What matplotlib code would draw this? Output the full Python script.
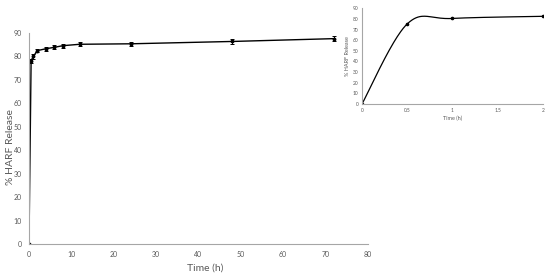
import numpy as np
import matplotlib.pyplot as plt

# main release profile (0-72 h)
time_h = [0, 0.5, 1, 2, 4, 6, 8, 12, 24, 48, 72]
release = [0, 78.2, 80.0, 82.5, 83.3, 83.9, 84.6, 85.2, 85.4, 86.4, 87.6]
release_err = [0, 0.8, 0.9, 0.8, 0.9, 0.8, 0.9, 0.9, 0.9, 1.0, 1.0]

# inset: first 2 h
inset_time = [0, 0.5, 1, 2]
inset_release = [0, 75.2, 80.4, 82.4]

plt.rcParams['font.family'] = ['Lato', 'DejaVu Sans']
axis_grey = '#a6a6a6'
text_grey = '#595959'


def excel_smooth(xs, ys, xspan, yspan, n=60):
    # Catmull-Rom style bezier, like a spreadsheet "smoothed line"
    p = np.column_stack([np.asarray(xs) / xspan, np.asarray(ys) / yspan])
    p = np.vstack([p[0], p, p[-1]])
    out = []
    t = np.linspace(0, 1, n)[:, None]
    for i in range(1, len(p) - 2):
        p0, p3 = p[i], p[i + 1]
        c1 = p0 + (p[i + 1] - p[i - 1]) / 6
        c2 = p3 - (p[i + 2] - p[i]) / 6
        seg = (1 - t) ** 3 * p0 + 3 * (1 - t) ** 2 * t * c1 + 3 * (1 - t) * t ** 2 * c2 + t ** 3 * p3
        out.append(seg)
    out = np.vstack(out)
    return out[:, 0] * xspan, out[:, 1] * yspan


def style_axes(ax, size):
    for s in ['top', 'right']:
        ax.spines[s].set_visible(False)
    for s in ['left', 'bottom']:
        ax.spines[s].set_color(axis_grey)
        ax.spines[s].set_linewidth(0.8)
    ax.tick_params(length=0, labelsize=size, colors=text_grey, pad=3)


fig = plt.figure(figsize=(5.5, 2.74), dpi=100)

ax = fig.add_axes([0.0527, 0.1095, 0.616, 0.770])
ax.errorbar(time_h, release, yerr=release_err, color='black', lw=1.0,
            marker='o', ms=1.8, capsize=1.2, elinewidth=0.7, capthick=0.7)
ax.set_xlim(0, 80)
ax.set_ylim(0, 90)
ax.set_xticks(range(0, 81, 10))
ax.set_yticks(range(0, 91, 10))
style_axes(ax, 5)
ax.tick_params(axis='y', pad=5)
ax.tick_params(axis='x', pad=5)
ax.set_xlabel('Time (h)', fontsize=7.5, color=text_grey)
ax.xaxis.set_label_coords(0.52, -0.095)
ax.set_ylabel('% HARF Release', fontsize=7.5, color=text_grey)
ax.yaxis.set_label_coords(-0.042, 0.46)

ins = fig.add_axes([0.658, 0.620, 0.329, 0.350])
sx, sy = excel_smooth(inset_time, inset_release, 2, 90)
ins.plot(sx, sy, color='black', lw=0.9)
ins.plot(inset_time, inset_release, 'o', color='black', ms=1.6)
ins.set_xlim(0, 2)
ins.set_ylim(0, 90)
ins.set_xticks([0, 0.5, 1, 1.5, 2])
ins.set_xticklabels(['0', '0.5', '1', '1.5', '2'])
ins.set_yticks(range(0, 91, 10))
style_axes(ins, 3.5)
ins.tick_params(pad=2.5)
ins.set_xlabel('Time (h)', fontsize=4, color=text_grey, labelpad=2)
ins.set_ylabel('% HARF Release', fontsize=4, color=text_grey, labelpad=2)

fig.savefig('out.png', dpi=100)
